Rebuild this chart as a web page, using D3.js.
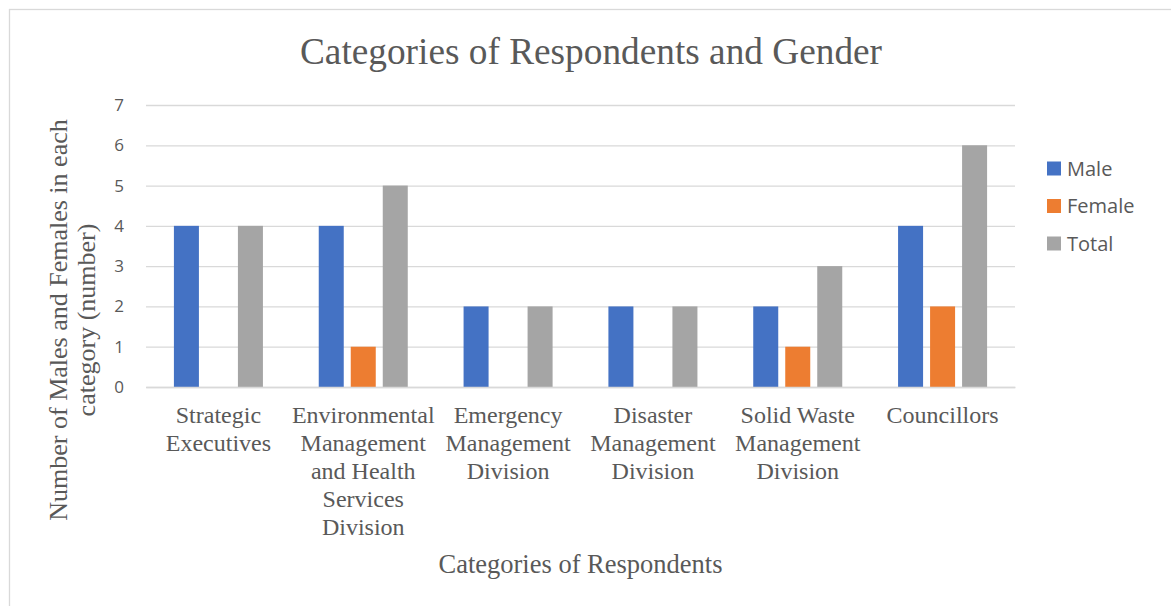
<!DOCTYPE html>
<html>
<head>
<meta charset="utf-8">
<script src="https://cdn.jsdelivr.net/npm/d3@7"></script>
<style>
  html, body { margin: 0; padding: 0; background: #fff; }
  svg { display: block; }
</style>
</head>
<body>
<svg id="chart" width="1171" height="606"></svg>
<script>
// ---- data ----
const categories = ["Strategic Executives", "Environmental Management and Health Services Division", "Emergency Management Division", "Disaster Management Division", "Solid Waste Management Division", "Councillors"];
const categoryLabelLines = [
  ["Strategic", "Executives"],
  ["Environmental", "Management", "and Health", "Services", "Division"],
  ["Emergency", "Management", "Division"],
  ["Disaster", "Management", "Division"],
  ["Solid Waste", "Management", "Division"],
  ["Councillors"]
];
const seriesNames = ["Male", "Female", "Total"];
const maleValues = [4, 4, 2, 2, 2, 4];
const femaleValues = [0, 1, 0, 0, 1, 2];
const totalValues = [4, 5, 2, 2, 3, 6];
const yTicks = [0, 1, 2, 3, 4, 5, 6, 7];
const seriesColors = ["#4472C4", "#ED7D31", "#A5A5A5"];
const titleText = "Categories of Respondents and Gender";
const xTitleText = "Categories of Respondents";
const yTitleLines = ["Number of Males and Females in each", "category (number)"];

const seriesValues = [maleValues, femaleValues, totalValues];
const rows = categories.map((c, i) => ({
  category: c,
  values: seriesNames.map((s, j) => ({ series: s, value: seriesValues[j][i] }))
}));

// ---- layout ----
const svg = d3.select("#chart");
const plot = { left: 146, right: 1015, top: 105, bottom: 387 };
const textColor = "#595959";
const gridColor = "#D9D9D9";
const serif = "'Liberation Serif', 'Times New Roman', serif";
const sans = "'Open Sans', 'Noto Sans', sans-serif";

// outer border
svg.append("rect")
  .attr("x", 9.5).attr("y", 9.5)
  .attr("width", 1300).attr("height", 700)
  .attr("fill", "none").attr("stroke", gridColor).attr("stroke-width", 1.3);

const x0 = d3.scaleBand().domain(categories).range([plot.left, plot.right]).paddingInner(0).paddingOuter(0);
const x1 = d3.scaleBand().domain(seriesNames).range([0, x0.bandwidth()]).paddingInner(0.21875).paddingOuter(0.872);
const y = d3.scaleLinear().domain([0, 7]).range([plot.bottom, plot.top]);
const color = d3.scaleOrdinal().domain(seriesNames).range(seriesColors);

// gridlines + y labels via axis
const yAxis = svg.append("g")
  .attr("transform", `translate(${plot.left},0)`)
  .call(d3.axisLeft(y).tickValues(yTicks).tickSize(-(plot.right - plot.left)).tickPadding(22).tickFormat(d3.format("d")));
yAxis.select(".domain").remove();
yAxis.selectAll(".tick line").attr("stroke", gridColor).attr("stroke-width", 1.3);
yAxis.selectAll(".tick text")
  .attr("fill", textColor)
  .style("font-family", sans)
  .style("font-size", "17px");

// bars
const groups = svg.append("g").selectAll("g")
  .data(rows).join("g")
  .attr("transform", d => `translate(${x0(d.category)},0)`);
groups.selectAll("rect")
  .data(d => d.values.filter(v => v.value > 0))
  .join("rect")
  .attr("x", d => x1(d.series))
  .attr("width", x1.bandwidth())
  .attr("y", d => y(d.value))
  .attr("height", d => y(0) - y(d.value))
  .attr("fill", d => color(d.series));

// x axis baseline
const xAxis = svg.append("g")
  .attr("transform", `translate(0,${plot.bottom})`)
  .call(d3.axisBottom(x0).tickSize(0).tickFormat(""));
xAxis.select(".domain").attr("stroke", gridColor).attr("stroke-width", 1.3);
xAxis.selectAll(".tick text").remove();

// category labels (wrapped)
const lab = svg.append("g");
categories.forEach((c, i) => {
  const t = lab.append("text")
    .attr("x", x0(c) + x0.bandwidth() / 2)
    .attr("y", 423)
    .attr("text-anchor", "middle")
    .attr("fill", textColor)
    .style("font-family", serif)
    .style("font-size", "24px");
  categoryLabelLines[i].forEach((ln, k) => {
    t.append("tspan").attr("x", x0(c) + x0.bandwidth() / 2).attr("dy", k === 0 ? 0 : 28).text(ln);
  });
});

// title
svg.append("text")
  .attr("x", 591).attr("y", 64)
  .attr("text-anchor", "middle")
  .attr("fill", textColor)
  .style("font-family", serif)
  .style("font-size", "37.3px")
  .text(titleText);

// x title
svg.append("text")
  .attr("x", (plot.left + plot.right) / 2).attr("y", 573)
  .attr("text-anchor", "middle")
  .attr("fill", textColor)
  .style("font-family", serif)
  .style("font-size", "26.5px")
  .text(xTitleText);

// y title
const yt = svg.append("text")
  .attr("transform", "translate(67,320) rotate(-90)")
  .attr("text-anchor", "middle")
  .attr("fill", textColor)
  .style("font-family", serif)
  .style("font-size", "26px");
yTitleLines.forEach((ln, k) => {
  yt.append("tspan").attr("x", 0).attr("dy", k === 0 ? 0 : 28).text(ln);
});

// legend
const legend = svg.append("g").attr("transform", "translate(1047,168.5)");
const li = legend.selectAll("g").data(seriesNames).join("g")
  .attr("transform", (d, i) => `translate(0,${i * 37.5})`);
li.append("rect").attr("x", 0).attr("y", -7).attr("width", 14).attr("height", 14).attr("fill", d => color(d));
li.append("text").attr("x", 20).attr("y", 0).attr("dy", "0.35em")
  .attr("fill", textColor)
  .style("font-family", sans)
  .style("font-size", "20px")
  .text(d => d);
</script>
</body>
</html>
